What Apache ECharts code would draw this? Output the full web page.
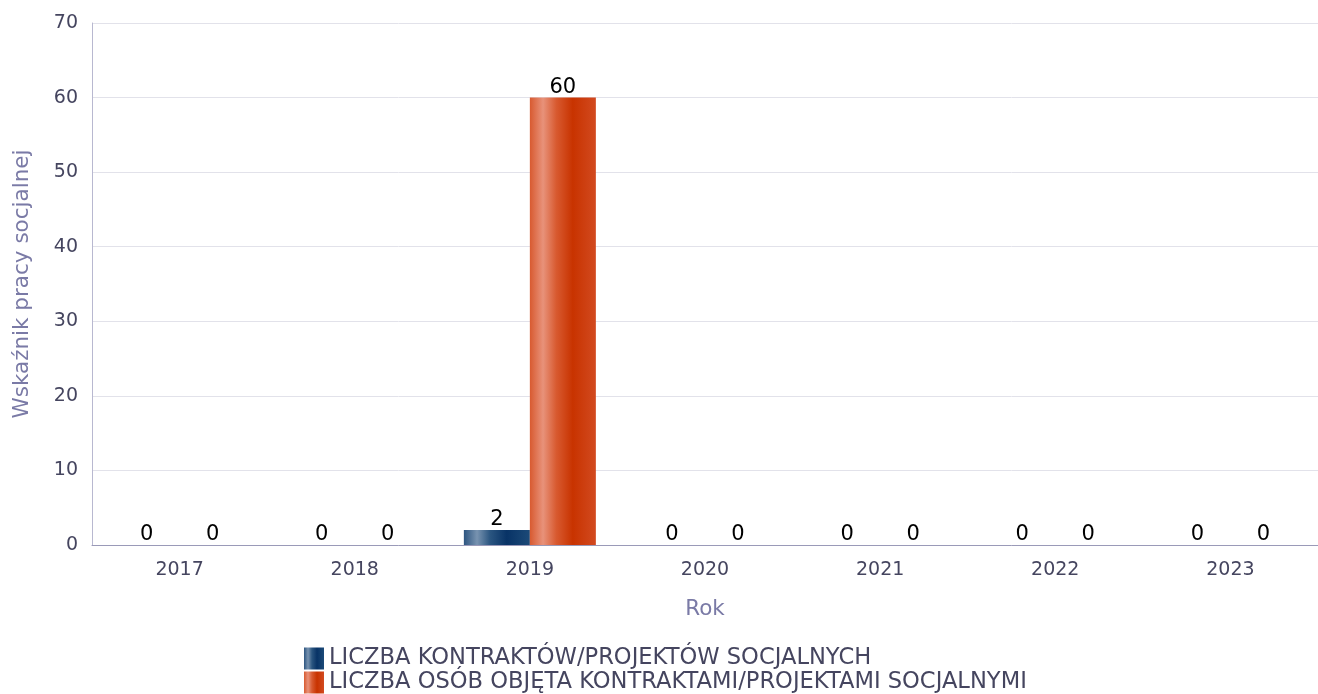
<!DOCTYPE html>
<html><head><meta charset="utf-8">
<script src="https://cdn.jsdelivr.net/npm/echarts@6/dist/echarts.min.js"></script>
<style>html,body{margin:0;padding:0;background:#fff}#c{width:1318px;height:694px}</style>
</head><body><div id="c"></div>
<script>
const categories = ['2017','2018','2019','2020','2021','2022','2023'];
const seriesNames = ['LICZBA KONTRAKTÓW/PROJEKTÓW SOCJALNYCH','LICZBA OSÓB OBJĘTA KONTRAKTAMI/PROJEKTAMI SOCJALNYMI'];
const contracts = [0,0,2,0,0,0,0];
const persons = [0,0,60,0,0,0,0];
const yTicks = [0,10,20,30,40,50,60,70];

function grad(stops){
  return new echarts.graphic.LinearGradient(0,0,1,0,stops.map(s=>({offset:s[0],color:s[1]})));
}
const blueGrad = grad([[0,'#2d5580'],[0.2,'#7893b0'],[0.4,'#2a5580'],[0.65,'#083366'],[1,'#1c4a78']]);
const orangeGrad = grad([[0,'#d85a30'],[0.2,'#e8927a'],[0.4,'#d85a30'],[0.65,'#c83300'],[1,'#d24a20']]);

const chart = echarts.init(document.getElementById('c'));
const lbl = {show:true,position:'top',distance:0,color:'#000',fontSize:21,fontFamily:'DejaVu Sans'};
const legendBase = {orient:'horizontal',left:304,padding:0,itemWidth:20,itemHeight:22,icon:'rect',
  textStyle:{color:'#45455f',fontSize:22.6,fontFamily:'DejaVu Sans'}};
chart.setOption({
  animation:false,
  textStyle:{fontFamily:'DejaVu Sans'},
  grid:{left:92,width:1232,top:23,bottom:149},
  legend:[
    Object.assign({},legendBase,{top:647,data:[seriesNames[0]]}),
    Object.assign({},legendBase,{top:671,data:[seriesNames[1]]})
  ],
  xAxis:{
    type:'category',data:categories,
    axisLine:{lineStyle:{color:'#9a9ab8'}},
    axisTick:{show:false},
    axisLabel:{color:'#45455f',fontSize:19,margin:16},
    name:'Rok',nameLocation:'middle',nameGap:53,
    nameTextStyle:{color:'#7a7aa6',fontSize:21.5}
  },
  yAxis:{
    type:'value',min:yTicks[0],max:yTicks[yTicks.length-1],interval:10,
    axisLine:{show:true,lineStyle:{color:'#b8b8d0'}},
    splitLine:{lineStyle:{color:'#e2e2ea'}},
    axisLabel:{color:'#45455f',fontSize:19,margin:14},
    name:'Wskaźnik pracy socjalnej',nameLocation:'middle',nameGap:59,
    nameTextStyle:{color:'#7a7aa6',fontSize:21.5}
  },
  series:[
    {name:seriesNames[0],type:'bar',data:contracts,barWidth:66,barGap:'0%',
     itemStyle:{color:blueGrad},label:lbl},
    {name:seriesNames[1],type:'bar',data:persons,barWidth:66,barGap:'0%',
     itemStyle:{color:orangeGrad},label:lbl}
  ]
});
</script></body></html>
